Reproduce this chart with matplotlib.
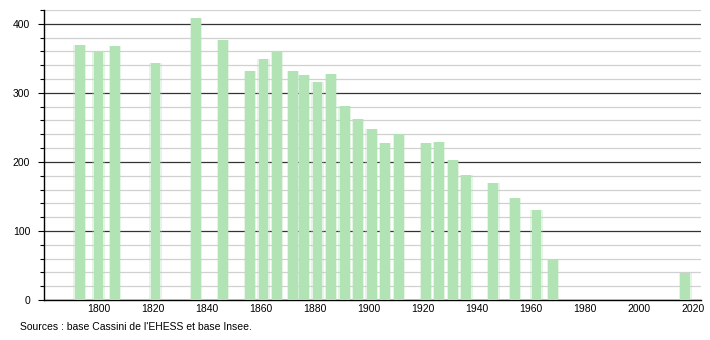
import matplotlib
matplotlib.use('Agg')
import matplotlib.pyplot as plt
from matplotlib.ticker import MultipleLocator

# census years and population
years = [1793, 1800, 1806, 1821, 1836, 1846, 1856, 1861, 1866, 1872, 1876,
         1881, 1886, 1891, 1896, 1901, 1906, 1911, 1921, 1926, 1931, 1936,
         1946, 1954, 1962, 1968, 2017]
population = [370, 359, 368, 343, 409, 377, 332, 349, 360, 332, 326,
              315, 328, 281, 262, 247, 227, 241, 227, 229, 203, 181,
              169, 148, 131, 59, 39]
xticks = [1800, 1820, 1840, 1860, 1880, 1900, 1920, 1940, 1960, 1980, 2000, 2020]
source = "Sources : base Cassini de l'EHESS et base Insee."

plt.rcParams['font.family'] = ['Liberation Sans', 'DejaVu Sans']

fig = plt.figure(figsize=(7.1, 3.4), dpi=100)
ax = fig.add_axes([44/710, 40/340, 657/710, 290/340])

# soft edges around the bars
ax.bar(years, population, width=4.6, color='#b2e3b5', alpha=0.35, zorder=3, linewidth=0)
ax.bar(years, population, width=3.6, color='#b2e3b5', zorder=4, linewidth=0)

ax.set_xlim(1779.8, 2022.8)
ax.set_ylim(0, 420)
ax.yaxis.set_major_locator(MultipleLocator(100))
ax.yaxis.set_minor_locator(MultipleLocator(20))
ax.set_xticks(xticks)
ax.grid(which='minor', axis='y', color='#d0d0d0', linewidth=0.9, zorder=1)
ax.grid(which='major', axis='y', color='#333333', linewidth=0.9, zorder=2)

for s in ['top', 'right']:
    ax.spines[s].set_visible(False)
ax.spines['left'].set_linewidth(1.0)
ax.spines['bottom'].set_linewidth(1.0)
ax.tick_params(axis='x', length=0, labelsize=7.5, pad=3)
ax.tick_params(axis='y', which='major', length=4, width=0.8, labelsize=7.5, pad=6)
ax.tick_params(axis='y', which='minor', length=3, width=0.8)

fig.text(20/710, 1 - 327/340, source, fontsize=7.5, va='center', ha='left')

fig.savefig('out.png', dpi=100)
